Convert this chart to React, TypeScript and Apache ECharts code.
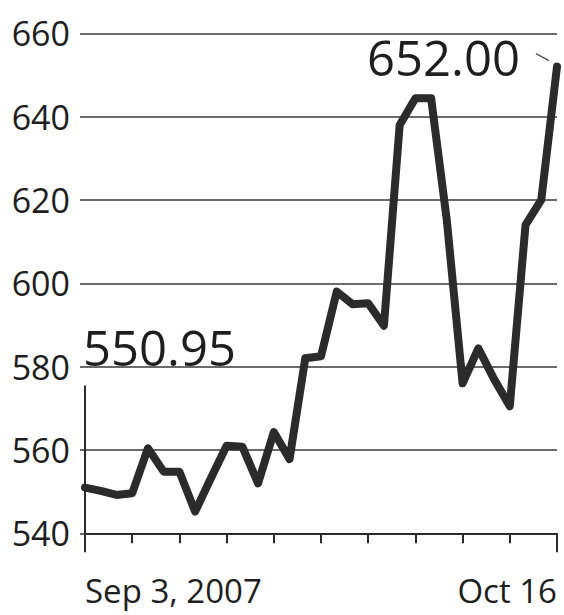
import React, { useEffect, useRef } from "react";
import * as echarts from "echarts";

const dates = [
  "Sep 4", "Sep 5", "Sep 6", "Sep 7", "Sep 10", "Sep 11", "Sep 12", "Sep 13", "Sep 14",
  "Sep 17", "Sep 18", "Sep 19", "Sep 20", "Sep 21", "Sep 24", "Sep 25", "Sep 26", "Sep 27",
  "Sep 28", "Oct 1", "Oct 2", "Oct 3", "Oct 4", "Oct 5", "Oct 8", "Oct 9", "Oct 10",
  "Oct 11", "Oct 12", "Oct 15", "Oct 16",
];
const closes = [
  550.95, 550.2, 549.2, 549.6, 560.4, 554.8, 554.8, 545.2, 553.2,
  561.0, 560.8, 552.0, 564.3, 557.8, 582.0, 582.5, 598.0, 595.0,
  595.2, 589.8, 638.0, 644.4, 644.4, 615.0, 576.0, 584.4, 577.0,
  570.5, 614.0, 620.0, 652.0,
];
const yMin = 540;
const yMax = 660;
const yStep = 20;
const xEndLabels = ["Sep 3, 2007", "Oct 16"];

const FONT = "Open Sans";
const INK = "#1e1e1e";
const LINE = "#2a2a2a";

export default function App() {
  const ref = useRef<HTMLDivElement>(null);
  useEffect(() => {
    if (!ref.current) return;
    const chart = echarts.init(ref.current, null, { renderer: "svg" });
    const last = closes.length - 1;
    chart.setOption({
      animation: false,
      backgroundColor: "#ffffff",
      grid: [
        { left: 80, right: 7, top: 33.3, bottom: 81.7 },
        { left: 85, right: 7, top: 33.3, bottom: 81.7 },
      ],
      xAxis: [
        { gridIndex: 0, type: "value", min: 0, max: 1, show: false },
        {
          gridIndex: 1,
          type: "category",
          data: dates,
          boundaryGap: false,
          position: "bottom",
          axisLine: { lineStyle: { color: LINE, width: 2 } },
          axisTick: { interval: 2, length: 10, lineStyle: { color: LINE, width: 2 } },
          axisLabel: {
            interval: (i: number) => i === 0 || i === last,
            formatter: (_v: string, i: number) => (i === 0 ? xEndLabels[0] : xEndLabels[1]),
            alignMinLabel: "left",
            alignMaxLabel: "right",
            margin: 41,
            fontSize: 33,
            fontFamily: FONT,
            color: INK,
          },
        },
        {
          gridIndex: 1,
          type: "category",
          data: dates,
          boundaryGap: false,
          position: "bottom",
          axisLine: { show: false },
          axisTick: {
            interval: (i: number) => i === 0 || i === last,
            length: 19,
            lineStyle: { color: LINE, width: 2 },
          },
          axisLabel: { show: false },
        },
      ],
      yAxis: [
        {
          gridIndex: 0,
          type: "value",
          min: yMin,
          max: yMax,
          interval: yStep,
          axisLine: { show: false },
          axisTick: { show: false },
          splitLine: { lineStyle: { color: "#3a3a3a", width: 1.6 } },
          axisLabel: { margin: 10, fontSize: 34, fontFamily: FONT, color: INK },
        },
        { gridIndex: 1, type: "value", min: yMin, max: yMax, interval: yStep, show: false },
      ],
      series: [
        {
          type: "line",
          xAxisIndex: 1,
          yAxisIndex: 1,
          data: closes,
          symbol: "none",
          z: 5,
          lineStyle: { color: "#2b2b2b", width: 8, join: "round", cap: "round" },
          markLine: {
            silent: true,
            symbol: ["none", "none"],
            label: { show: false },
            lineStyle: { color: LINE, width: 2, type: "solid" },
            data: [[{ coord: [dates[0], 575.5] }, { coord: [dates[0], yMin] }]],
          },
          markPoint: {
            symbol: "circle",
            symbolSize: 1,
            itemStyle: { color: "rgba(0,0,0,0)" },
            label: {
              show: true,
              position: "inside",
              fontSize: 49,
              fontFamily: FONT,
              color: INK,
              verticalAlign: "middle",
            },
            data: [
              {
                coord: [dates[0], closes[0]],
                value: closes[0],
                label: { formatter: closes[0].toFixed(2), align: "left", offset: [-2, -141] },
              },
              {
                coord: [dates[last], closes[last]],
                value: closes[last],
                label: { formatter: closes[last].toFixed(2), align: "right", offset: [-37, -10] },
              },
            ],
          },
        },
      ],
    });
    const p = chart.convertToPixel({ xAxisIndex: 1, yAxisIndex: 1 } as any, [last, closes[last]]) as number[];
    if (p && isFinite(p[0])) {
      chart.setOption({
        graphic: [
          {
            type: "line",
            shape: { x1: p[0] - 21, y1: p[1] - 13, x2: p[0] - 8, y2: p[1] - 6 },
            style: { stroke: "#555", lineWidth: 1.5 },
          },
        ],
      });
    }
    return () => chart.dispose();
  }, []);
  return (
    <div
      ref={ref}
      style={{ position: "absolute", left: 0, top: 0, width: 564, height: 615, background: "#fff" }}
    />
  );
}
